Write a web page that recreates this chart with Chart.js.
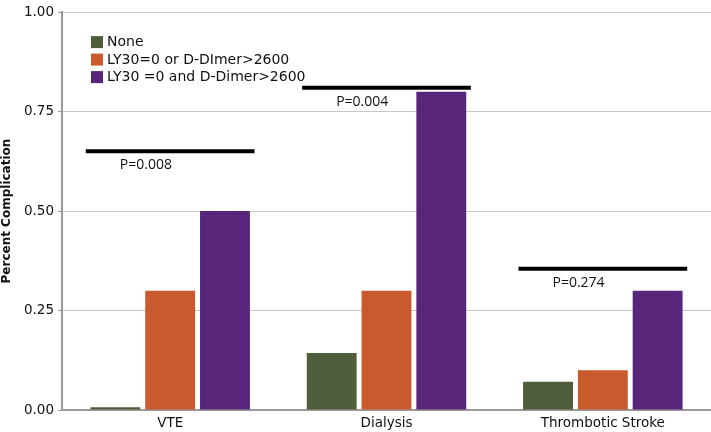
<!DOCTYPE html>
<html>
<head>
<meta charset="utf-8">
<script src="https://cdn.jsdelivr.net/npm/chart.js@4.4.1/dist/chart.umd.min.js"></script>
<style>
  html, body { margin: 0; padding: 0; background: #fff; }
  #wrap { width: 711px; height: 432px; position: relative; }
</style>
</head>
<body>
<div id="wrap"><canvas id="chart"></canvas></div>
<script>
const categories = ['VTE', 'Dialysis', 'Thrombotic Stroke'];
const seriesNames = ['None', 'LY30=0 or D-DImer>2600', 'LY30 =0 and D-Dimer>2600'];
const noneValues = [0.007, 0.143, 0.071];
const orValues = [0.30, 0.30, 0.10];
const andValues = [0.50, 0.80, 0.30];
const pLabels = ['P=0.008', 'P=0.004', 'P=0.274'];
const pLevels = [0.65, 0.81, 0.355];
const yTicks = [0, 0.25, 0.5, 0.75, 1.0];

const green = '#4f5e3a';
const orange = '#c95a2d';
const purple = '#57257a';
const font = 'DejaVu Sans';

// legend drawn inside the plot, top-left
const insideLegend = {
  id: 'insideLegend',
  afterDraw(chart) {
    const { ctx, chartArea } = chart;
    ctx.save();
    ctx.font = `14px "${font}"`;
    ctx.textBaseline = 'middle';
    chart.data.datasets.forEach((ds, i) => {
      const x = chartArea.left + 29;
      const y = chartArea.top + 24 + i * 17.5;
      ctx.fillStyle = ds.backgroundColor;
      ctx.fillRect(x, y, 12, 12);
      ctx.fillStyle = '#111';
      ctx.textAlign = 'left';
      ctx.fillText(ds.label, x + 16, y + 6.5);
    });
    ctx.restore();
  }
};

// significance bars with p-values above each group
const pBars = {
  id: 'pBars',
  afterDatasetsDraw(chart) {
    const { ctx, scales: { x, y } } = chart;
    ctx.save();
    pLevels.forEach((lvl, i) => {
      const x0 = x.getPixelForValue(i - 0.39);
      const x1 = x.getPixelForValue(i + 0.39);
      const py = y.getPixelForValue(lvl);
      ctx.strokeStyle = '#000';
      ctx.lineWidth = 4;
      ctx.beginPath();
      ctx.moveTo(x0, py);
      ctx.lineTo(x1, py);
      ctx.stroke();
      ctx.fillStyle = '#111';
      ctx.font = '14px "Open Sans"';
      ctx.textAlign = 'left';
      ctx.textBaseline = 'middle';
      ctx.fillText(pLabels[i], x0 + 34, py + 14);
    });
    ctx.restore();
  }
};

new Chart(document.getElementById('chart'), {
  type: 'bar',
  data: {
    labels: categories,
    datasets: [
      { label: seriesNames[0], data: noneValues, backgroundColor: green },
      { label: seriesNames[1], data: orValues, backgroundColor: orange },
      { label: seriesNames[2], data: andValues, backgroundColor: purple }
    ]
  },
  options: {
    responsive: true,
    maintainAspectRatio: false,
    animation: false,
    datasets: { bar: { categoryPercentage: 0.76, barPercentage: 0.91 } },
    layout: { padding: { top: 9, right: 0, left: 0, bottom: 0 } },
    plugins: { legend: { display: false }, tooltip: { enabled: false } },
    scales: {
      x: {
        grid: { display: false, drawTicks: false },
        border: { color: '#9a9a9a', width: 2 },
        ticks: { color: '#111', font: { family: font, size: 13.5 }, padding: 5 },
        afterFit(s) { s.height = 22; }
      },
      y: {
        min: 0,
        max: 1,
        afterBuildTicks(s) { s.ticks = yTicks.map(v => ({ value: v })); },
        grid: { color: '#c8c8c8', tickColor: '#9a9a9a', tickLength: 4 },
        border: { color: '#9a9a9a', width: 2 },
        ticks: {
          color: '#111',
          font: { family: font, size: 13.5 },
          padding: 4,
          callback: v => Number(v).toFixed(2)
        },
        title: {
          display: true,
          text: 'Percent Complication',
          color: '#111',
          font: { family: font, size: 12, weight: 'bold' },
          padding: { top: 0, bottom: 0 }
        },
        afterFit(s) { s.width = 62; }
      }
    }
  },
  plugins: [pBars, insideLegend]
});
</script>
</body>
</html>
